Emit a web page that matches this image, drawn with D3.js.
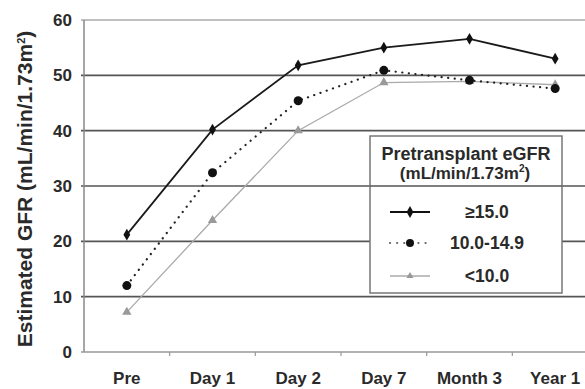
<!DOCTYPE html>
<html><head><meta charset="utf-8">
<script src="https://cdn.jsdelivr.net/npm/d3@7"></script>
<style>body{margin:0;background:#fff}svg{display:block}</style>
</head><body>
<svg id="c" width="585" height="389"></svg>
<script>
const categories = ["Pre","Day 1","Day 2","Day 7","Month 3","Year 1"];
const highValues = [21.2, 40.2, 51.8, 55.0, 56.6, 53.0];
const midValues  = [12.0, 32.4, 45.4, 50.9, 49.1, 47.6];
const lowValues  = [7.2, 23.8, 40.0, 48.7, 48.9, 48.3];
const yTicks = [0,10,20,30,40,50,60];
const seriesNames = ["\u226515.0","10.0-14.9","<10.0"];

(function(){
const svg = d3.select("#c");
const font = "'Liberation Sans', Arial, sans-serif";
const txt = "#2a2a2a";
const pL = 84, pR = 598, pT = 20, pB = 352;
const x = d3.scaleBand().domain(categories).range([pL, pR]);
const y = d3.scaleLinear().domain([0,60]).range([pB, pT]);
const fs = 17;

const grid = svg.append("g");
yTicks.filter(t=>t>0).forEach(t=>{
  grid.append("line").attr("x1", pL-3).attr("x2", 585)
    .attr("y1", y(t)).attr("y2", y(t))
    .attr("stroke", t===60 ? "#aaa" : "#555").attr("stroke-width", 1.6);
});
svg.append("line").attr("x1", pL).attr("x2", pL).attr("y1", pT).attr("y2", pB)
  .attr("stroke", "#888").attr("stroke-width", 1.5);
svg.append("line").attr("x1", pL-3).attr("x2", 585).attr("y1", pB).attr("y2", pB)
  .attr("stroke", "#999").attr("stroke-width", 1.5);
categories.slice(1).forEach(c=>{
  svg.append("line").attr("x1", x(c)).attr("x2", x(c)).attr("y1", pB).attr("y2", pB+4)
    .attr("stroke", "#999").attr("stroke-width", 1.2);
});
yTicks.forEach(t=>{
  svg.append("text").attr("x", 72).attr("y", y(t)).attr("dy", "0.36em")
    .attr("text-anchor", "end").attr("font-family", font).attr("font-weight", "bold")
    .attr("font-size", fs).attr("fill", txt).text(t);
});
categories.forEach(c=>{
  svg.append("text").attr("x", x(c)+x.bandwidth()/2).attr("y", 384)
    .attr("text-anchor", "middle").attr("font-family", font).attr("font-weight", "bold")
    .attr("font-size", fs).attr("fill", txt).text(c);
});
const yt = svg.append("text").attr("transform", "translate(32,189) rotate(-90)")
  .attr("text-anchor", "middle").attr("font-family", font).attr("font-weight", "bold")
  .attr("font-size", 17).attr("fill", txt);
yt.append("tspan").text("Estimated GFR (mL/min/1.73m");
yt.append("tspan").attr("font-size", 11).attr("dy", -7).text("2");
yt.append("tspan").attr("dy", 7).text(")");
const L = yt.node().getComputedTextLength();
if (L > 0) yt.attr("font-size", 17 * 318 / L);

const cx = c => x(c) + x.bandwidth()/2;
const line = vals => d3.line().x((d,i)=>cx(categories[i])).y(d=>y(d))(vals);

svg.append("path").attr("d", line(lowValues)).attr("fill","none")
  .attr("stroke","#aaa").attr("stroke-width",1.3);
svg.append("path").attr("d", line(midValues)).attr("fill","none")
  .attr("stroke","#222").attr("stroke-width",2.2).attr("stroke-dasharray","0.1 6.5")
  .attr("stroke-linecap","round");
svg.append("path").attr("d", line(highValues)).attr("fill","none")
  .attr("stroke","#1a1a1a").attr("stroke-width",1.8);

const tri = d3.symbol().type(d3.symbolTriangle).size(38);
const dia = d3.symbol().type(d3.symbolDiamond).size(40);
lowValues.forEach((v,i)=>{
  svg.append("path").attr("d", tri()).attr("transform", `translate(${cx(categories[i])},${y(v)})`)
    .attr("fill","#999");
});
midValues.forEach((v,i)=>{
  svg.append("circle").attr("cx", cx(categories[i])).attr("cy", y(v)).attr("r", 4.5).attr("fill","#111");
});
highValues.forEach((v,i)=>{
  svg.append("path").attr("d", dia()).attr("transform", `translate(${cx(categories[i])},${y(v)})`)
    .attr("fill","#111");
});

const lg = svg.append("g");
lg.append("rect").attr("x", 370).attr("y", 136).attr("width", 192).attr("height", 157)
  .attr("fill", "#fff").attr("stroke", "#777").attr("stroke-width", 1.5);
lg.append("text").attr("x", 466).attr("y", 160).attr("text-anchor","middle")
  .attr("font-family", font).attr("font-weight","bold").attr("font-size", 18).attr("fill", txt)
  .text("Pretransplant eGFR");
const lt = lg.append("text").attr("x", 465).attr("y", 179).attr("text-anchor","middle")
  .attr("font-family", font).attr("font-weight","bold").attr("font-size", 17).attr("fill", txt);
lt.append("tspan").text("(mL/min/1.73m");
lt.append("tspan").attr("font-size", 10).attr("dy", -7).text("2");
lt.append("tspan").attr("dy", 7).text(")");
svg.append("line").attr("x1", 370).attr("x2", 562).attr("y1", y(30)).attr("y2", y(30))
  .attr("stroke", "#555").attr("stroke-width", 1.6);

const ly = [212, 243, 276];
lg.append("line").attr("x1",390).attr("x2",430).attr("y1",ly[0]).attr("y2",ly[0]).attr("stroke","#111").attr("stroke-width",2);
lg.append("path").attr("d", dia()).attr("transform",`translate(410,${ly[0]})`).attr("fill","#111");
lg.append("line").attr("x1",390).attr("x2",430).attr("y1",ly[1]).attr("y2",ly[1]).attr("stroke","#666").attr("stroke-width",2.2)
  .attr("stroke-dasharray","0.1 7").attr("stroke-linecap","round");
lg.append("circle").attr("cx",410).attr("cy",ly[1]).attr("r",4).attr("fill","#111");
lg.append("line").attr("x1",390).attr("x2",430).attr("y1",ly[2]).attr("y2",ly[2]).attr("stroke","#aaa").attr("stroke-width",1.5);
lg.append("path").attr("d", tri.size(22)()).attr("transform",`translate(410,${ly[2]})`).attr("fill","#999");
seriesNames.forEach((s,i)=>{
  lg.append("text").attr("x", 487).attr("y", ly[i]).attr("dy","0.36em").attr("text-anchor","middle")
    .attr("font-family", font).attr("font-weight","bold").attr("font-size", 17.5).attr("fill", txt).text(s);
});
})();
</script>
</body></html>
